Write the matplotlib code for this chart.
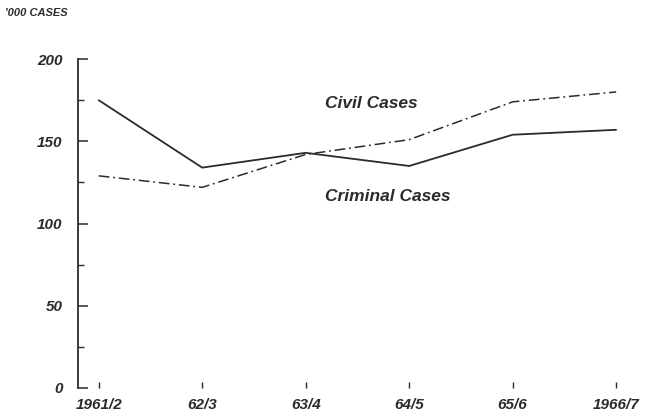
import numpy as np
import matplotlib
matplotlib.use("Agg")
import matplotlib.pyplot as plt
from matplotlib.ticker import MultipleLocator

# court cases, thousands, by year
years = ["1961/2", "62/3", "63/4", "64/5", "65/6", "1966/7"]
civil = [129, 122, 142, 151, 174, 180]
criminal = [175, 134, 143, 135, 154, 157]

x = np.arange(len(years))
ink = "#2b2b2b"
font = dict(family="Liberation Sans", style="italic", weight="bold", color=ink)

fig = plt.figure(figsize=(6.49, 4.19), dpi=100)
ax = fig.add_axes([0.1202, 0.074, 0.877, 0.785])

ax.plot(x, criminal, color=ink, lw=1.3, solid_capstyle="round")
ax.plot(x, civil, color=ink, lw=1.1, dashes=(7, 2.5, 1.2, 2.5))

ax.set_xlim(-0.2, 5.3)
ax.set_ylim(0, 200)

for s in ["top", "right", "bottom"]:
    ax.spines[s].set_visible(False)
ax.spines["left"].set_color(ink)
ax.spines["left"].set_linewidth(1.3)

ax.yaxis.set_major_locator(MultipleLocator(50))
ax.yaxis.set_minor_locator(MultipleLocator(25))
ax.tick_params(axis="y", which="major", direction="in", length=7, width=1.1,
               color=ink, pad=11)
ax.tick_params(axis="y", which="minor", direction="in", length=4, width=1.0,
               color=ink)
ax.set_xticks(x)
ax.set_xticklabels(years)
ax.tick_params(axis="x", direction="in", length=4, width=1.0, color=ink, pad=7)

for lab in ax.get_yticklabels() + ax.get_xticklabels():
    lab.set_fontfamily("Liberation Sans")
    lab.set_fontstyle("italic")
    lab.set_fontweight("bold")
    lab.set_fontsize(11)
    lab.set_color(ink)

ax.text(2.19, 173, "Civil Cases", fontsize=12.5, va="center", ha="left", **font)
ax.text(2.19, 116.5, "Criminal Cases", fontsize=12.5, va="center", ha="left", **font)
fig.text(0.008, 0.968, "'000 CASES", fontsize=8, va="center", ha="left", **font)

fig.savefig("out.png", dpi=100, facecolor="white")
